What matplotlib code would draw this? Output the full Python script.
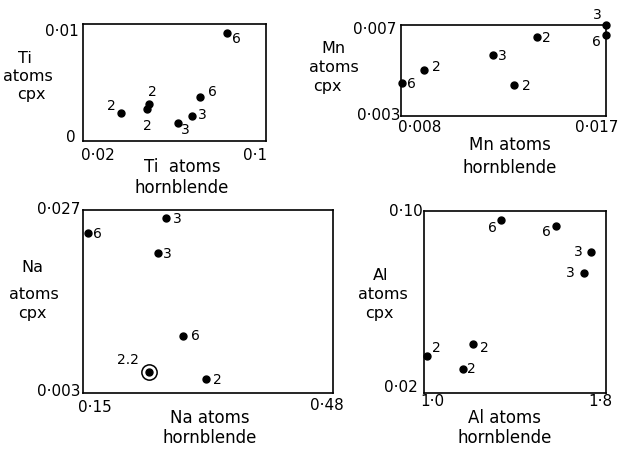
import matplotlib.pyplot as plt

plt.rcParams['font.family'] = ['DejaVu Sans']

# ====== Data ======
ti_hbl = [0.0366, 0.0489, 0.0480, 0.0615, 0.0677, 0.0711, 0.0830]
ti_cpx = [0.0024, 0.0032, 0.0027, 0.0015, 0.0021, 0.0038, 0.0092]
ti_lab = ["2", "2", "2", "3", "3", "6", "6"]

mn_hbl = [0.0170, 0.0170, 0.01397, 0.01204, 0.00901, 0.00804, 0.01296]
mn_cpx = [0.00700, 0.00656, 0.00647, 0.00568, 0.00502, 0.00445, 0.00436]
mn_lab = ["3", "6", "2", "3", "2", "6", "2"]

na_hbl = [0.1566, 0.2596, 0.2490, 0.2820, 0.2371, 0.3124]
na_cpx = [0.02398, 0.02595, 0.02136, 0.01047, 0.00575, 0.00484]
na_lab = ["6", "3", "3", "6", "2.2", "2"]
na_circled = [False, False, False, False, True, False]

al_hbl = [1.338, 1.580, 1.734, 1.703, 1.215, 1.013, 1.171]
al_cpx = [0.0960, 0.0934, 0.0820, 0.0727, 0.0415, 0.0363, 0.0305]
al_lab = ["6", "6", "3", "3", "2", "2", "2"]

# label offsets (points) for each annotation
ti_off = [(-7, 5), (2, 8), (0, -12), (5, -5), (7, 1), (9, 3), (7, -4)]
mn_off = [(-6, 7), (-7, -5), (7, -1), (7, -1), (9, 2), (7, -1), (9, -1)]
na_off = [(7, -1), (8, -1), (7, -1), (9, 0), (-15, 9), (8, -1)]
al_off = [(-6, -6), (-7, -4), (-9, 0), (-10, 0), (8, -3), (7, 6), (6, 0)]

fig = plt.figure(figsize=(6.21, 4.51), dpi=100)


def panel(rect, xs, ys, labels, offs, xlim, ylim, circled=None):
    ax = fig.add_axes(rect)
    ax.set_xlim(xlim)
    ax.set_ylim(ylim)
    ax.set_xticks([])
    ax.set_yticks([])
    for s in ax.spines.values():
        s.set_linewidth(1.2)
    for i, (x, y) in enumerate(zip(xs, ys)):
        ax.plot(x, y, 'o', color='black', ms=5, clip_on=False)
        if circled is not None and circled[i]:
            ax.plot(x, y, 'o', mfc='none', mec='black', ms=11, mew=1.1, clip_on=False)
        ax.annotate(labels[i], (x, y), xytext=offs[i], textcoords='offset points',
                    ha='center', va='center', fontsize=10)
    return ax


# --- Ti panel ---
panel([0.1337, 0.6874, 0.2947, 0.2594], ti_hbl, ti_cpx, ti_lab, ti_off,
      (0.02, 0.1), (0, 0.01))
# --- Mn panel ---
panel([0.6457, 0.7428, 0.330, 0.2018], mn_hbl, mn_cpx, mn_lab, mn_off,
      (0.008, 0.017), (0.003, 0.007))
# --- Na panel ---
panel([0.1337, 0.1286, 0.4026, 0.4058], na_hbl, na_cpx, na_lab, na_off,
      (0.15, 0.48), (0.003, 0.027), circled=na_circled)
# --- Al panel ---
panel([0.6828, 0.1286, 0.2931, 0.4036], al_hbl, al_cpx, al_lab, al_off,
      (1.0, 1.8), (0.02, 0.10))


def txt(x, y, s, ha='center', size=11, va='center'):
    fig.text(x / 621, 1 - y / 451, s, ha=ha, va=va, fontsize=size)


# tick labels at the corners
txt(79, 32, "0·01", ha='right'); txt(76, 137, "0", ha='right')
txt(98, 155, "0·02"); txt(255, 155, "0·1")
txt(396, 30, "0·007", ha='right'); txt(401, 116, "0·003", ha='right')
txt(420, 127, "0·008"); txt(597, 127, "0·017")
txt(80, 210, "0·027", ha='right'); txt(80, 392, "0·003", ha='right')
txt(95, 408, "0·15"); txt(327, 405, "0·48")
txt(423, 212, "0·10", ha='right'); txt(418, 388, "0·02", ha='right')
txt(432, 402, "1·0"); txt(600, 402, "1·8")

# y axis titles (baseline positions)
for x, y, s in [(25, 63, "Ti"), (28, 81, "atoms"), (31, 99, "cpx"),
                (333, 53, "Mn"), (334, 72, "atoms"), (327, 91, "cpx"),
                (32, 272, "Na"), (34, 299, "atoms"), (32, 318, "cpx"),
                (381, 280, "Al"), (383, 299, "atoms"), (379, 318, "cpx")]:
    txt(x, y, s, size=11.5, va='baseline')
# x axis titles
for x, y, s in [(182, 167, "Ti  atoms"), (182, 188, "hornblende"),
                (510, 145, "Mn atoms"), (510, 168, "hornblende"),
                (210, 418, "Na atoms"), (210, 438, "hornblende"),
                (505, 418, "Al atoms"), (505, 438, "hornblende")]:
    txt(x, y, s, size=12)

plt.savefig("out.png", dpi=100)
